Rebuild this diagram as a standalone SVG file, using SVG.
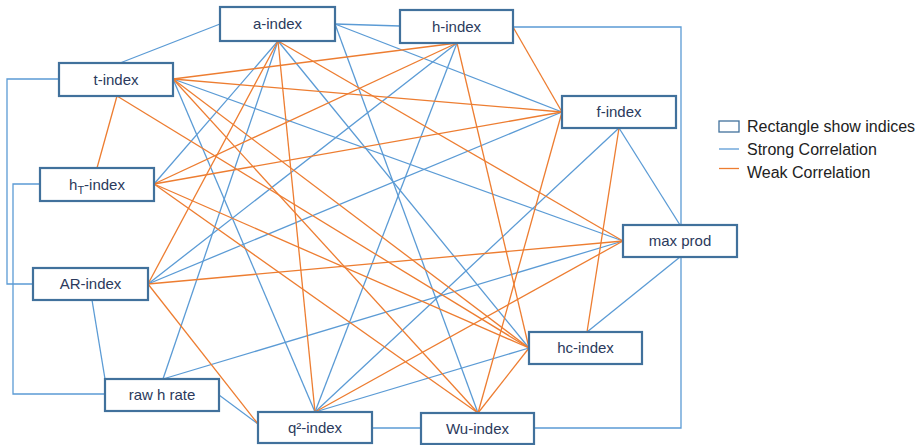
<svg xmlns="http://www.w3.org/2000/svg" width="920" height="445" viewBox="0 0 920 445">
<style>
.s{stroke:#5b9bd5;stroke-width:1.3;fill:none}
.w{stroke:#ed7d31;stroke-width:1.3;fill:none}
.n rect{fill:#fff;stroke:#41719c;stroke-width:2.2}
.n text{font-family:"Liberation Sans",Arial,sans-serif;font-size:15px;fill:#2b3a5c;text-anchor:middle}
.lg{font-family:"Liberation Sans",Arial,sans-serif;font-size:16px;fill:#222}
</style>
<rect width="920" height="445" fill="#fff"/>
<g id="connectors">
<path class="s" d="M220,24L120,63"/>
<path class="s" d="M335,24L400,26"/>
<path class="s" d="M59,79H7V284H33"/>
<path class="s" d="M40,184H13V394H105"/>
<path class="s" d="M513,27H681V428H534"/>
<path class="s" d="M372,428H421"/>
<path class="s" d="M219,395L258,424"/>
<path class="s" d="M92,300L105,379"/>
<path class="s" d="M278,41L154,184"/>
<path class="s" d="M278,41L163,379"/>
<path class="s" d="M278,41L529,348"/>
<path class="s" d="M335,24L562,112"/>
<path class="s" d="M335,24L478,413"/>
<path class="s" d="M173,79L623,241"/>
<path class="s" d="M173,79L315,412"/>
<path class="s" d="M148,284L457,43"/>
<path class="s" d="M148,284L562,112"/>
<path class="s" d="M163,379L623,241"/>
<path class="s" d="M457,43L315,412"/>
<path class="s" d="M619,128L315,412"/>
<path class="s" d="M619,128L680,225"/>
<path class="s" d="M680,257L587,332"/>
<path class="s" d="M315,412L529,348"/>
<path class="w" d="M117,96L97,168"/>
<path class="w" d="M117,96L529,348"/>
<path class="w" d="M173,79L457,43"/>
<path class="w" d="M173,79L562,112"/>
<path class="w" d="M173,79L478,413"/>
<path class="w" d="M173,79L529,348"/>
<path class="w" d="M154,184L457,43"/>
<path class="w" d="M154,184L562,112"/>
<path class="w" d="M154,184L529,348"/>
<path class="w" d="M154,184L478,413"/>
<path class="w" d="M278,41L148,284"/>
<path class="w" d="M278,41L315,412"/>
<path class="w" d="M278,41L623,241"/>
<path class="w" d="M148,284L623,241"/>
<path class="w" d="M148,284L258,424"/>
<path class="w" d="M513,27L562,112"/>
<path class="w" d="M457,43L529,348"/>
<path class="w" d="M562,112L478,413"/>
<path class="w" d="M619,128L587,332"/>
<path class="w" d="M315,412L623,241"/>
<path class="w" d="M478,413L529,348"/>
</g>
<g id="a-index" class="n"><rect x="220" y="7" width="115" height="34"/><text x="277.5" y="29">a-index</text></g>
<g id="h-index" class="n"><rect x="400" y="10" width="113" height="33"/><text x="456.5" y="32">h-index</text></g>
<g id="f-index" class="n"><rect x="562" y="96" width="114" height="32"/><text x="619" y="117">f-index</text></g>
<g id="t-index" class="n"><rect x="59" y="63" width="114" height="33"/><text x="116" y="85">t-index</text></g>
<g id="hT-index" class="n"><rect x="40" y="168" width="114" height="33"/><text x="97" y="190">h<tspan font-size="11" dy="4">T</tspan><tspan dy="-4">-index</tspan></text></g>
<g id="AR-index" class="n"><rect x="33" y="268" width="115" height="32"/><text x="90.5" y="289">AR-index</text></g>
<g id="raw-h-rate" class="n"><rect x="105" y="379" width="114" height="32"/><text x="162" y="400">raw h rate</text></g>
<g id="q2-index" class="n"><rect x="258" y="412" width="114" height="31"/><text x="315" y="433">q²-index</text></g>
<g id="Wu-index" class="n"><rect x="421" y="413" width="113" height="31"/><text x="477.5" y="434">Wu-index</text></g>
<g id="hc-index" class="n"><rect x="529" y="332" width="113" height="32"/><text x="585.5" y="353">hc-index</text></g>
<g id="max-prod" class="n"><rect x="623" y="225" width="114" height="32"/><text x="680" y="246">max prod</text></g>
<g id="legend">
<rect x="719" y="121" width="20" height="11" fill="none" stroke="#41719c" stroke-width="1.3"/>
<line x1="719" y1="149" x2="739" y2="149" class="s"/>
<line x1="719" y1="168.5" x2="739" y2="168.5" class="w"/>
<text class="lg" x="747" y="132">Rectangle show indices</text>
<text class="lg" x="747" y="155">Strong Correlation</text>
<text class="lg" x="747" y="178">Weak Correlation</text>
</g>
</svg>
